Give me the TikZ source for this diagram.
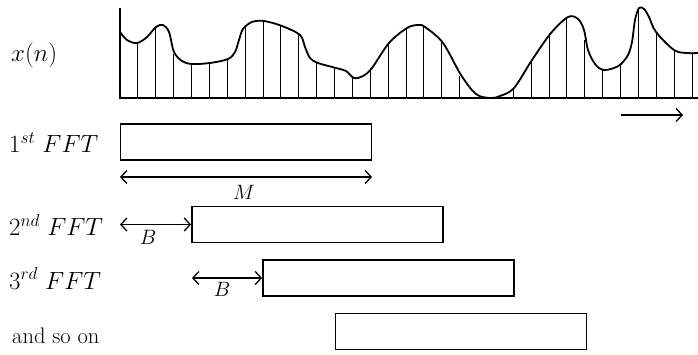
\documentclass[tikz,border=0pt]{standalone}
\usetikzlibrary{arrows.meta}
\begin{document}
\begin{tikzpicture}[x=1pt,y=-1pt,
  fftbox/.style={draw,line width=1.8pt,minimum width=251pt,minimum height=36pt,inner sep=0pt},
  dimarrow/.style={line width=1.3pt,{Straight Barb[length=6pt,width=13pt,line width=1.3pt]}-{Straight Barb[length=6pt,width=13pt,line width=1.3pt]}},
  fwdarrow/.style={line width=1.3pt,-{Straight Barb[length=6pt,width=13pt,line width=1.3pt]}},
  lbl/.style={anchor=base west,inner sep=0pt,font=\fontsize{24}{28}\selectfont},
  txtlbl/.style={anchor=base west,inner sep=0pt,font=\fontsize{22.5}{27}\selectfont},
  dimlbl/.style={inner sep=0pt,font=\fontsize{22}{26}\selectfont},
  stem/.style={line width=0.9pt},
  signal/.style={line width=1.8pt,line join=round}]
\useasboundingbox (0,0) rectangle (698,355);
% axes
\coordinate (ax0) at (120,98);
\coordinate (axtop) at (120,8);
\coordinate (axend) at (698,98);
\draw[line width=1.8pt] (axtop) -- (ax0) -- (axend);
% samples
\foreach \k/\t in {1/43,2/26,3/54,4/63,5/62,6/60,7/27,8/21,9/26,10/35,11/62,12/68,13/78,14/68,15/43,16/28,17/27,18/43,19/76,22/88,23/60,24/33,25/17,26/40,27/70,28/65,29/8,30/32,31/50,32/52}
  \draw[stem] ({120+17.875*\k},98) -- ({120+17.875*\k},\t);
% signal curve
\draw[signal] plot[smooth,tension=0.55] coordinates {
 (120,32) (127,40) (137,43) (147,37) (156,27) (163,25) (169,32) (174,52) (182,61) (192,64)
 (210,63) (228,59) (235,52) (239,40) (243,29) (252,22) (264,21) (282,26) (300,35)
 (305,47) (310,58) (318,63) (336,68) (346,71) (354,78) (363,76) (372,68) (389,43)
 (407,28) (418,25) (425,27) (443,43) (461,75) (476,94) (490,98) (500,96) (514,88)
 (532,60) (551,33) (568,17) (578,19) (584,30) (588,50) (595,64) (603,70) (614,68)
 (621,64) (628,55) (632,42) (635,20) (639,8) (644,9) (649,17) (656,32) (674,50) (687,53) (698,53)};
% direction arrow
\coordinate (dirA) at (621,115);
\coordinate (dirB) at (683,115);
\draw[fwdarrow] (dirA) -- (dirB);
% x(n)
\node[lbl] (xn) at (11,62) {$x(n)$};
% FFT boxes
\node[fftbox] (r1) at (246,142) {};
\node[fftbox] (r2) at (317.5,224.5) {};
\node[fftbox] (r3) at (388.5,278) {};
\node[fftbox] (r4) at (461,331.5) {};
% labels
\node[lbl] (l1) at (9,153) {$1^{st}\ FFT$};
\node[lbl] (l2) at (9,236) {$2^{nd}\ FFT$};
\node[lbl] (l3) at (9,289) {$3^{rd}\ FFT$};
\node[txtlbl] (l4) at (12,343) {and so on};
% M dimension
\coordinate (mL) at (120,177);
\coordinate (mR) at (372,177);
\draw[dimarrow] (mL) -- (mR);
\node[dimlbl] (M) at (244,192) {$M$};
% B dimensions
\coordinate (b1) at (120,224.5);
\draw[dimarrow] (b1) -- (r2.west);
\node[dimlbl] (B1) at (148,237) {$B$};
\coordinate (b2) at (192,278);
\draw[dimarrow] (b2) -- (r3.west);
\node[dimlbl] (B2) at (222,289) {$B$};
\end{tikzpicture}
\end{document}
